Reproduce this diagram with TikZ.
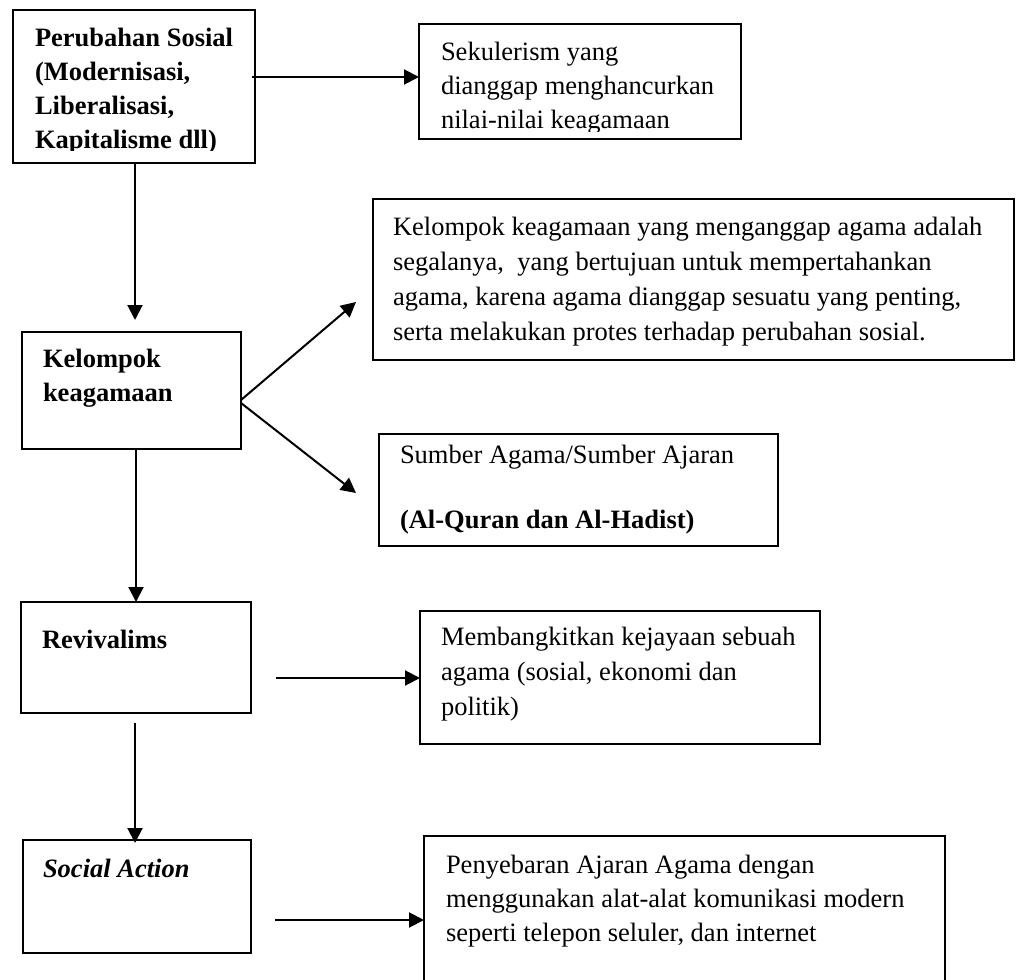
\documentclass[tikz,border=0pt]{standalone}
\usepackage{fontspec}
\setmainfont{Liberation Serif}
\usetikzlibrary{arrows.meta}
\begin{document}
\begin{tikzpicture}[x=1pt,y=-1pt,
  frame/.style={draw=black, line width=2pt, inner sep=0pt, outer sep=0pt, anchor=north west},
  txt/.style={anchor=base west, inner sep=0pt, outer sep=0pt},
  conn/.style={line width=2pt, -{Triangle[length=15pt,width=15pt]}}]
\newcommand{\lines}[2][34pt]{\parbox[t]{640pt}{\fontsize{26.5}{#1}\selectfont\raggedright #2}}
\useasboundingbox[fill=white] (0,0) rectangle (1016,979);
% boxes
\node[frame, minimum width=242pt, minimum height=153pt] (b1) at (13,10) {};
\node[frame, minimum width=322pt, minimum height=115pt] (b2) at (419,24) {};
\node[frame, minimum width=219pt, minimum height=117pt] (b3) at (22,332) {};
\node[frame, minimum width=641pt, minimum height=161pt] (b4) at (373,199) {};
\node[frame, minimum width=399pt, minimum height=112pt] (b5) at (379,434) {};
\node[frame, minimum width=230pt, minimum height=111pt] (b6) at (21,602) {};
\node[frame, minimum width=400pt, minimum height=133pt] (b7) at (420,611) {};
\node[frame, minimum width=228pt, minimum height=113pt] (b8) at (23,840) {};
\draw[line width=2pt] (424,990) -- (424,836) coordinate (b9nw) -- (945,836) -- (945,990);
% texts
\begin{scope}
\clip (14,11) rectangle (254,150);
\node[txt] (t1) at (35,47) {\lines{\bfseries Perubahan Sosial\\(Modernisasi,\\Liberalisasi,\\Kapitalisme dll)}};
\end{scope}
\begin{scope}
\clip (420,25) rectangle (740,131);
\node[txt] (t2) at (441,61) {\lines{Sekulerism yang\\dianggap menghancurkan\\nilai-nilai keagamaan}};
\end{scope}
\node[txt] (t3) at (43,367) {\lines{\bfseries Kelompok\\keagamaan}};
\node[txt] (t4) at (393,235) {\lines[35pt]{Kelompok keagamaan yang menganggap agama adalah\\segalanya,\ \ yang bertujuan untuk mempertahankan\\agama, karena agama dianggap sesuatu yang penting,\\serta melakukan protes terhadap perubahan sosial.}};
\node[txt] (t5) at (400,463) {\lines[65pt]{Sumber Agama/Sumber Ajaran\\\bfseries (Al-Quran dan Al-Hadist)}};
\node[txt] (t6) at (42,648) {\lines{\bfseries Revivalims}};
\node[txt] (t7) at (441,645) {\lines[35pt]{Membangkitkan kejayaan sebuah\\agama (sosial, ekonomi dan\\politik)}};
\node[txt] (t8) at (43,877) {\lines{\bfseries\itshape Social Action}};
\node[txt] (t9) at (446,873) {\lines{Penyebaran Ajaran Agama dengan\\menggunakan alat-alat komunikasi modern\\seperti telepon seluler, dan internet}};
% connector end points
\coordinate (a1s) at (252,77);
\coordinate (a1e) at (419,77);
\coordinate (a2s) at (135,163);
\coordinate (a2e) at (135,320);
\coordinate (d1s) at (241,400);
\coordinate (d1e) at (356,302);
\coordinate (d2s) at (241,403);
\coordinate (d2e) at (356,493);
\coordinate (a3s) at (136,449);
\coordinate (a3e) at (136,602);
\coordinate (a4s) at (276,678);
\coordinate (a4e) at (420,678);
\coordinate (a5s) at (135,723);
\coordinate (a5e) at (135,843);
\coordinate (a6s) at (275,920);
\coordinate (a6e) at (424,920);
% connectors
\draw[conn] (a1s) -- (a1e);
\draw[conn] (a2s) -- (a2e);
\draw[conn] (d1s) -- (d1e);
\draw[conn] (d2s) -- (d2e);
\draw[conn] (a3s) -- (a3e);
\draw[conn] (a4s) -- (a4e);
\draw[conn] (a5s) -- (a5e);
\draw[conn] (a6s) -- (a6e);
\end{tikzpicture}
\end{document}
